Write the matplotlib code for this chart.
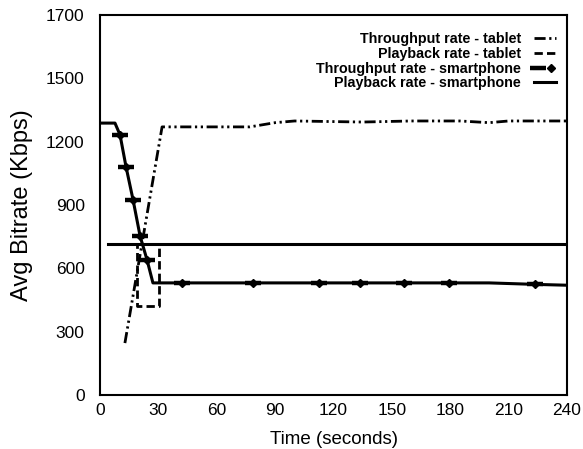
import matplotlib
matplotlib.use("Agg")
import matplotlib.pyplot as plt
from matplotlib.legend_handler import HandlerTuple

plt.rcParams['font.family'] = ['Liberation Sans', 'DejaVu Sans']

# Throughput rate - tablet
tab_tp_t = [12.8, 31.9, 77.0, 90.0, 100.0, 135.0, 160.0, 185.0, 200.0, 210.0, 240.0]
tab_tp_v = [246, 1270, 1270, 1290, 1298, 1293, 1298, 1298, 1290, 1298, 1298]

# Playback rate - tablet
tab_pb_t = [4.1, 19.0, 19.0, 30.3, 30.3, 240.0]
tab_pb_v = [715, 715, 422, 422, 715, 715]

# Throughput rate - smartphone
sp_tp_t = [0, 7.7, 10.3, 13.4, 17.0, 20.6, 24.2, 27.2, 42.1, 78.6, 112.6, 133.6,
           156.2, 179.4, 200.0, 223.6, 240.0]
sp_tp_v = [1288, 1288, 1232, 1080, 924, 753, 639, 531, 531, 531, 531, 531,
           531, 531, 531, 524, 520]
sp_tp_markers = [2, 3, 4, 5, 6, 8, 9, 10, 11, 12, 13, 15]

# Playback rate - smartphone
sp_pb_t = [4.1, 240.0]
sp_pb_v = [715, 715]

x_ticks = [0, 30, 60, 90, 120, 150, 180, 210, 240]
y_ticks = [0, 300, 600, 900, 1200, 1500, 1800]
y_tick_labels = ['0', '300', '600', '900', '1200', '1500', '1700']

fig = plt.figure(figsize=(5.83, 4.49), dpi=100)
ax = fig.add_axes([100 / 583, 1 - 395 / 449, 467 / 583, 380 / 449])

l_tab_tp, = ax.plot(tab_tp_t, tab_tp_v, color='black', lw=2.0,
                    linestyle=(0, (4, 1.3, 0.8, 1.3, 0.8, 1.3)), label='Throughput rate - tablet')
l_sp_pb, = ax.plot(sp_pb_t, sp_pb_v, color='black', lw=2.2, label='Playback rate - smartphone')
l_tab_pb, = ax.plot(tab_pb_t, tab_pb_v, color='black', lw=2.0,
                    linestyle=(0, (3, 1.5)), label='Playback rate - tablet')
l_sp_tp, = ax.plot(sp_tp_t, sp_tp_v, color='black', lw=2.2, marker='_', ms=11, mew=3.2,
                   markevery=sp_tp_markers, label='Throughput rate - smartphone')
m_sp_tp, = ax.plot([sp_tp_t[i] for i in sp_tp_markers], [sp_tp_v[i] for i in sp_tp_markers],
                   linestyle='none', color='black', marker='D', ms=4.5)

ax.set_xlim(0, 240)
ax.set_ylim(0, 1800)
ax.set_xticks(x_ticks)
ax.set_yticks(y_ticks)
ax.set_yticklabels(y_tick_labels)
ax.tick_params(axis='both', length=0, labelsize=12.5)
ax.tick_params(axis='y', pad=11)
ax.tick_params(axis='x', pad=6)
for s in ax.spines.values():
    s.set_linewidth(1.5)

ax.set_xlabel('Time (seconds)', fontsize=13.5, labelpad=9)
ax.set_ylabel('Avg Bitrate (Kbps)', fontsize=17, labelpad=9)

handles = [l_tab_tp, l_tab_pb, (l_sp_tp, m_sp_tp), l_sp_pb]
labels = ['Throughput rate - tablet', 'Playback rate - tablet',
          'Throughput rate - smartphone', 'Playback rate - smartphone']
leg = ax.legend(handles, labels, loc='upper right', bbox_to_anchor=(1.0, 0.985),
                frameon=False, markerfirst=False, handlelength=1.5, handletextpad=0.9,
                labelspacing=0.05, borderpad=0.3,
                prop={'weight': 'bold', 'size': 10.3},
                handler_map={tuple: HandlerTuple(ndivide=None)})
for t in leg.get_texts():
    t.set_ha('right')
leg._legend_box.align = 'right'

fig.savefig('out.png', dpi=100)
